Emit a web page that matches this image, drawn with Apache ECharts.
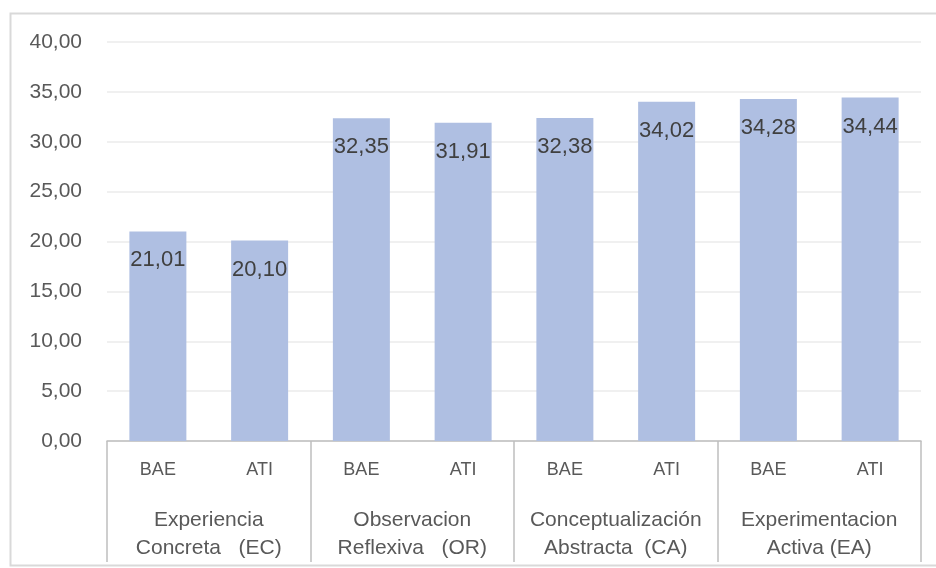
<!DOCTYPE html>
<html>
<head>
<meta charset="utf-8">
<script src="https://cdn.jsdelivr.net/npm/echarts@6/dist/echarts.min.js"></script>
<style>
  html, body { margin: 0; padding: 0; background: #ffffff; }
  #chart { width: 936px; height: 568px; }
</style>
</head>
<body>
<div id="chart"></div>
<script>
// Learning-style dimensions, each with two sub-groups
const groups = [
  'Experiencia\nConcreta   (EC)',
  'Observacion\nReflexiva   (OR)',
  'Conceptualización\nAbstracta  (CA)',
  'Experimentacion\nActiva (EA)'
];
const subGroups = ['BAE', 'ATI'];
const values = [21.01, 20.10, 32.35, 31.91, 32.38, 34.02, 34.28, 34.44];
const yTicks = { min: 0, max: 40, interval: 5 };

const categories = [];
groups.forEach(() => subGroups.forEach(s => categories.push(s)));

const FONT = 'Liberation Sans';
const fmt = v => Number(v).toFixed(2).replace('.', ',');

const chart = echarts.init(document.getElementById('chart'), null, { renderer: 'canvas' });

chart.setOption({
  animation: false,
  backgroundColor: '#ffffff',
  textStyle: { fontFamily: FONT },
  graphic: [{
    type: 'rect',
    shape: { x: 10.5, y: 13.5, width: 940, height: 552 },
    style: { fill: 'none', stroke: '#d9d9d9', lineWidth: 2 },
    silent: true,
    z: -1
  }],
  grid: { left: 107, right: 15, top: 42, bottom: 127, containLabel: false },
  xAxis: [
    {
      type: 'category',
      data: categories,
      position: 'bottom',
      axisLine: { show: true, lineStyle: { color: '#bfbfbf', width: 1.5 } },
      axisTick: { show: false },
      axisLabel: { color: '#595959', fontSize: 18, fontFamily: FONT, margin: 20, interval: 0 }
    },
    {
      type: 'category',
      data: groups,
      position: 'bottom',
      offset: 0,
      axisLine: { show: false },
      axisTick: { show: true, length: 121, lineStyle: { color: '#bfbfbf', width: 1.5 } },
      axisLabel: { color: '#595959', fontSize: 21, fontFamily: FONT, lineHeight: 28, margin: 65, interval: 0 }
    }
  ],
  yAxis: {
    type: 'value',
    min: yTicks.min,
    max: yTicks.max,
    interval: yTicks.interval,
    axisLine: { show: false },
    axisTick: { show: false },
    splitLine: { lineStyle: { color: '#ebebeb', width: 1.5 } },
    axisLabel: { color: '#595959', fontSize: 21, fontFamily: FONT, margin: 25, formatter: fmt }
  },
  series: [{
    type: 'bar',
    xAxisIndex: 0,
    data: values,
    barWidth: 57,
    itemStyle: { color: '#afbfe2' },
    label: {
      show: true,
      position: 'insideTop',
      distance: 18,
      color: '#404040',
      fontSize: 22,
      fontFamily: FONT,
      formatter: p => fmt(p.value)
    }
  }]
});
</script>
</body>
</html>
